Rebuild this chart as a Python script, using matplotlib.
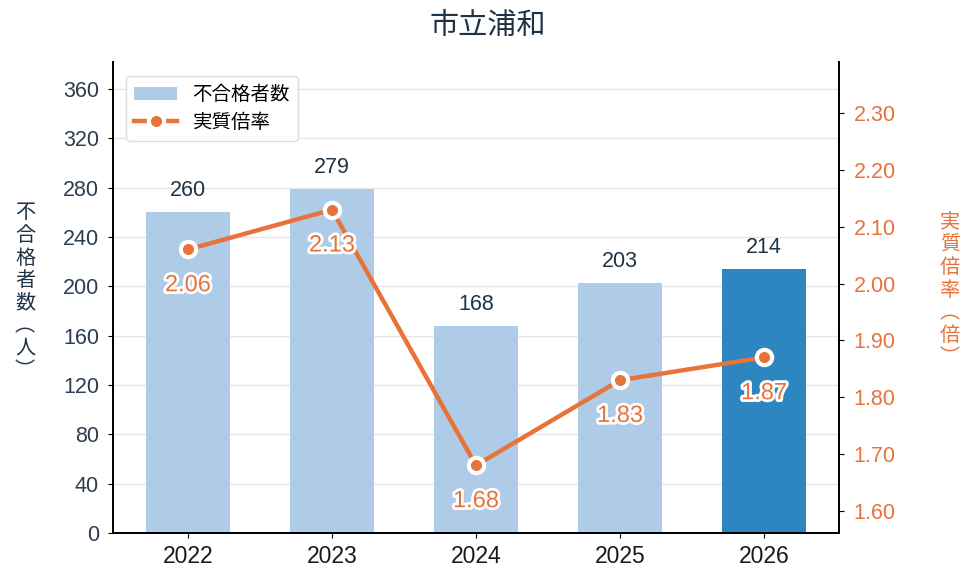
import matplotlib
matplotlib.use('Agg')
import matplotlib.pyplot as plt
import matplotlib.patheffects as pe
from matplotlib.patches import Patch
from matplotlib.lines import Line2D

plt.rcParams['font.family'] = ['Liberation Sans', 'Noto Sans CJK JP', 'DejaVu Sans']

years = ['2022', '2023', '2024', '2025', '2026']
fails = [260, 279, 168, 203, 214]
ratio = [2.06, 2.13, 1.68, 1.83, 1.87]

bar_light = '#aecce8'
bar_dark = '#2e86c1'
orange = '#e8733a'
navy = '#1f3347'
cjk = ['Noto Sans CJK JP', 'DejaVu Sans']

fig = plt.figure(figsize=(9.75, 5.84), dpi=100)
ax1 = fig.add_axes([113 / 975, 1 - 533 / 584, (839 - 113) / 975, (533 - 62) / 584])
ax2 = ax1.twinx()

x = list(range(len(years)))
colors = [bar_light] * (len(years) - 1) + [bar_dark]
ax1.bar(x, fails, width=0.58, color=colors, zorder=2)
for xi, v in zip(x, fails):
    ax1.text(xi, v + 9, str(v), ha='center', va='bottom', fontsize=15.5, color=navy)

ax1.set_ylim(0, 382)
ax1.set_yticks(range(0, 361, 40))
ax1.set_xlim(-0.52, 4.52)
ax1.set_xticks(x)
ax1.set_xticklabels(years, fontsize=16.5, color='#1a1a1a')
ax1.tick_params(axis='y', labelsize=15.5, labelcolor='#2c3e50', pad=6.5)
ax1.tick_params(axis='x', pad=5)
ax1.grid(axis='y', color='#e6e6e6', linewidth=1, zorder=0)
ax1.set_axisbelow(True)

ax2.plot(x, ratio, color=orange, linewidth=3.2, marker='o', markersize=11,
         markerfacecolor=orange, markeredgecolor='white', markeredgewidth=3, zorder=5)
for xi, v in zip(x, ratio):
    ax2.text(xi, v - 0.063, f'{v:.2f}', ha='center', va='center', fontsize=17, color=orange,
             path_effects=[pe.withStroke(linewidth=4, foreground='white')], zorder=6)
ax2.set_ylim(1.561, 2.39)
ticks_r = [1.6, 1.7, 1.8, 1.9, 2.0, 2.1, 2.2, 2.3]
ax2.set_yticks(ticks_r)
ax2.set_yticklabels([f'{t:.2f}' for t in ticks_r])
ax2.tick_params(axis='y', labelsize=15.5, labelcolor=orange, pad=7)

for ax in (ax1, ax2):
    ax.spines['top'].set_visible(False)
    ax.spines['left'].set_linewidth(1.3)
    ax.spines['right'].set_linewidth(1.3)
    ax.spines['bottom'].set_linewidth(1.3)

fig.text(25 / 975, 1 - 292 / 584, '\n'.join('不合格者数︵人︶'), ha='center', va='center',
         fontsize=14.5, color=navy, linespacing=1.1, family=cjk)
fig.text(950 / 975, 1 - 290 / 584, '\n'.join('実質倍率︵倍︶'), ha='center', va='center',
         fontsize=14.5, color=orange, linespacing=1.1, family=cjk)

fig.suptitle('市立浦和', fontsize=21, color=navy, y=1 - 26 / 584, va='center', family=cjk)

handles = [Patch(facecolor=bar_light, label='不合格者数'),
           Line2D([0], [0], color=orange, linewidth=3.2, marker='o', markersize=11,
                  markerfacecolor=orange, markeredgecolor='white', markeredgewidth=3,
                  label='実質倍率')]
ax2.legend(handles=handles, loc='upper left', frameon=True,
           prop={'family': cjk, 'size': 14},
           edgecolor='#dddddd', framealpha=1, bbox_to_anchor=(0.005, 0.99),
           handlelength=2.2, borderpad=0.4, labelspacing=0.35)

fig.savefig('out.png', dpi=100)
